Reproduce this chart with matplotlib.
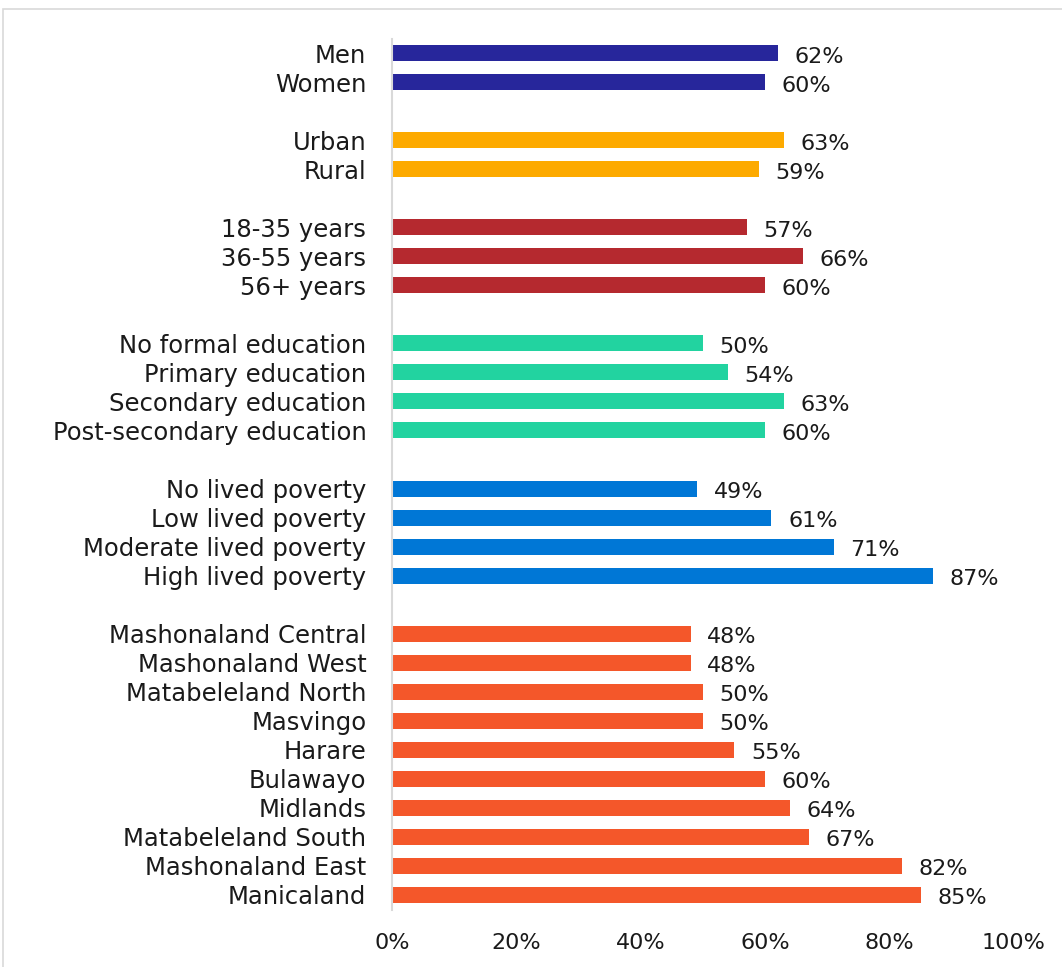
import numpy as np
import matplotlib.pyplot as plt
from matplotlib.patches import Rectangle

plt.rcParams['font.family'] = ['DejaVu Sans']

# groups of categories, top to bottom
groups = [
    ["Men", "Women"],
    ["Urban", "Rural"],
    ["18-35 years", "36-55 years", "56+ years"],
    ["No formal education", "Primary education", "Secondary education",
     "Post-secondary education"],
    ["No lived poverty", "Low lived poverty", "Moderate lived poverty",
     "High lived poverty"],
    ["Mashonaland Central", "Mashonaland West", "Matabeleland North", "Masvingo",
     "Harare", "Bulawayo", "Midlands", "Matabeleland South", "Mashonaland East",
     "Manicaland"],
]
values = [
    [62, 60],
    [63, 59],
    [57, 66, 60],
    [50, 54, 63, 60],
    [49, 61, 71, 87],
    [48, 48, 50, 50, 55, 60, 64, 67, 82, 85],
]
colors = ["#27269b", "#fdaa00", "#b5292f", "#22d3a0", "#0077d6", "#f4572a"]

fig = plt.figure(figsize=(10.62, 9.67), dpi=100)
ax = fig.add_axes([392 / 1062, 1 - 909.5 / 967, (1014 - 392) / 1062, (909.5 - 38.5) / 967])

# light frame around the chart area
fig.patches.append(Rectangle((3 / 1062, -0.1), 1.2, 1 - 9 / 967 + 0.1,
                             transform=fig.transFigure, fill=False,
                             edgecolor="#d9d9d9", linewidth=1.2))

txt = "#1a1a1a"
labels, yticks = [], []
row = 0
for names, vals, col in zip(groups, values, colors):
    for name, v in zip(names, vals):
        ax.barh(row, v, height=0.55, color=col)
        ax.text(v + 2.7, row + 0.12, f"{v}%", va="center", ha="left",
                fontsize=16, color=txt)
        labels.append(name)
        yticks.append(row)
        row += 1
    row += 1  # blank slot between groups

ax.set_ylim(row - 1 - 0.5, -0.5)
ax.set_xlim(0, 100)
ax.set_yticks(yticks)
ax.set_yticklabels(labels, fontsize=17.5, color=txt)
ax.set_xticks(np.arange(0, 101, 20))
ax.set_xticklabels([f"{t}%" for t in range(0, 101, 20)], fontsize=16, color=txt)
ax.tick_params(axis="y", length=0, pad=18.5)
ax.tick_params(axis="x", length=0, pad=17)

for side in ["top", "right", "bottom"]:
    ax.spines[side].set_visible(False)
ax.spines["left"].set_color("#d9d9d9")
ax.spines["left"].set_linewidth(1.5)

fig.savefig("out.png", dpi=100)
